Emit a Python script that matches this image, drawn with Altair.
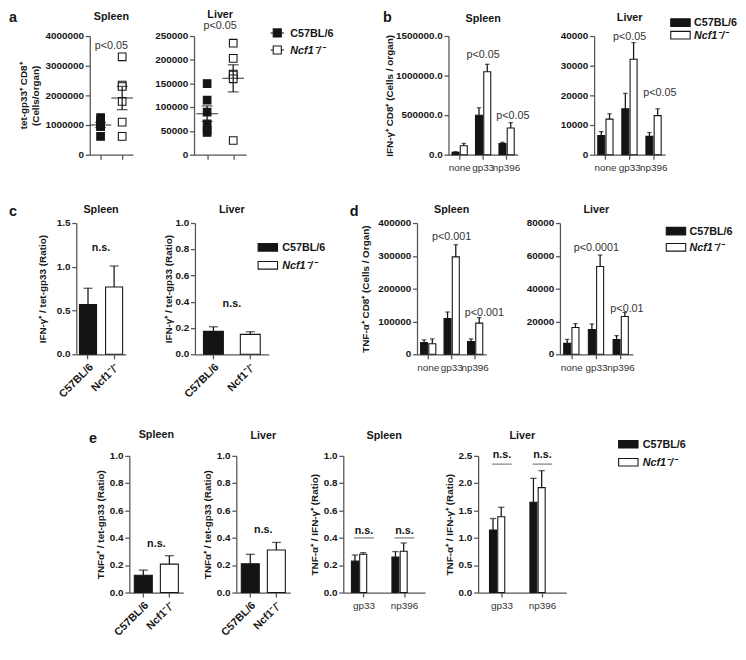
import altair as alt
import pandas as pd

FONT = "Liberation Sans"
INK = "#161616"
AXC = "#555555"
PCOL = "#333333"

STRAINS = ["C57BL/6", "Ncf1⁻/⁻"]
PEPTIDES = ["none", "gp33", "np396"]
PEPTIDES_E = ["gp33", "np396"]

# a: tet-gp33+ CD8+ cells per organ, individual mice
a_spleen_c57 = [1250000, 1150000, 1050000, 1000000, 950000, 620000]
a_spleen_ncf1 = [3300000, 2350000, 2300000, 1800000, 1100000, 620000]
a_liver_c57 = [150000, 115000, 90000, 65000, 52000, 47000]
a_liver_ncf1 = [235000, 203000, 170000, 168000, 160000, 30000]

# b: IFN-g+ CD8+ cells per organ (mean, SEM)
b_spleen_c57 = [30000, 500000, 143000]
b_spleen_c57_err = [8000, 94000, 15000]
b_spleen_ncf1 = [113000, 1049000, 338000]
b_spleen_ncf1_err = [30000, 94000, 68000]
b_liver_c57 = [6500, 15500, 6200]
b_liver_c57_err = [1300, 5200, 1300]
b_liver_ncf1 = [12000, 32200, 13200]
b_liver_ncf1_err = [1800, 5600, 2300]

# c: IFN-g+ / tet-gp33 ratio
c_spleen = [0.57, 0.77]
c_spleen_err = [0.185, 0.24]
c_liver = [0.175, 0.152]
c_liver_err = [0.035, 0.02]

# d: TNF-a+ CD8+ cells per organ
d_spleen_c57 = [36000, 109000, 39000]
d_spleen_c57_err = [8000, 20000, 8000]
d_spleen_ncf1 = [32000, 297000, 95000]
d_spleen_ncf1_err = [15000, 37000, 17000]
d_liver_c57 = [6700, 15100, 9000]
d_liver_c57_err = [2400, 3400, 2400]
d_liver_ncf1 = [16400, 53500, 23100]
d_liver_ncf1_err = [2300, 7000, 2400]

# e: ratios
e1_vals = [0.127, 0.208]
e1_err = [0.037, 0.062]
e2_vals = [0.211, 0.312]
e2_err = [0.069, 0.055]
e3_c57 = [0.23, 0.26]
e3_c57_err = [0.045, 0.04]
e3_ncf1 = [0.28, 0.303]
e3_ncf1_err = [0.012, 0.06]
e4_c57 = [1.145, 1.654]
e4_c57_err = [0.21, 0.436]
e4_ncf1 = [1.388, 1.92]
e4_ncf1_err = [0.172, 0.31]

# tick values
TICKS_A_SPLEEN = [0, 1000000, 2000000, 3000000, 4000000]
TICKS_A_LIVER = [0, 50000, 100000, 150000, 200000, 250000]
TICKS_B_SPLEEN = [0, 500000, 1000000, 1500000]
TICKS_B_LIVER = [0, 10000, 20000, 30000, 40000]
TICKS_C_SPLEEN = [0.0, 0.5, 1.0, 1.5]
TICKS_UNIT = [0.0, 0.2, 0.4, 0.6, 0.8, 1.0]
TICKS_D_SPLEEN = [0, 100000, 200000, 300000, 400000]
TICKS_D_LIVER = [0, 20000, 40000, 60000, 80000]
TICKS_E4 = [0.0, 0.5, 1.0, 1.5, 2.0, 2.5]

fill_scale = alt.Scale(domain=STRAINS, range=["#141414", "#ffffff"])

RECT = "M-1.8,-0.7H1.8V0.7H-1.8Z"
LINESQ = "M-1,0H-0.6M0.6,0H1M-0.6,-0.6H0.6V0.6H-0.6Z"


def make_legend(x, y, shape, size, row_pad, label_off):
    return alt.Legend(
        title=None, orient="none", legendX=x, legendY=y,
        symbolType=shape, symbolSize=size, symbolStrokeColor=INK,
        symbolStrokeWidth=1.2, labelFont=FONT, labelFontSize=12,
        labelFontWeight="bold", labelColor=INK,
        labelFontStyle=alt.ExprRef(expr="datum.label === 'C57BL/6' ? 'normal' : 'italic'"),
        labelOffset=label_off, rowPadding=row_pad, padding=0)


def yax(title, values, fmt, pad=4):
    return alt.Axis(title=title, values=values, format=fmt, titlePadding=pad)


def ttl(text, offset):
    return alt.TitleParams(text=text, offset=offset, frame="group", anchor="middle",
                           font=FONT, fontSize=12, fontWeight="bold", color=INK)


def letter_layer(ch, dx, dy):
    return alt.Chart(pd.DataFrame({"letter": [ch]})).mark_text(
        font=FONT, fontSize=16, fontWeight="bold", color=INK, align="left", baseline="middle"
    ).encode(text="letter:N", x=alt.value(dx), y=alt.value(dy))


def yscale(ticks):
    return alt.Scale(domain=[ticks[0], ticks[-1]], nice=False, zero=True)


def scatter_panel(c57, ncf, ticks, width, height, title_text, title_off, ytitle,
                  note, note_y, legend=None, letter=None):
    df = pd.DataFrame({"strain": [STRAINS[0]] * len(c57) + [STRAINS[1]] * len(ncf),
                       "value": c57 + ncf})
    x = alt.X("strain:N", sort=STRAINS, scale=alt.Scale(type="point", padding=0.5),
              axis=alt.Axis(title=None, labels=False))
    ysc = yscale(ticks)
    ya = yax(ytitle, ticks, "d", pad=5)
    base = alt.Chart(df)
    pts = base.mark_square(size=72, stroke=INK, strokeWidth=1.2, opacity=1).encode(
        x=x, y=alt.Y("value:Q", scale=ysc, axis=ya),
        fill=alt.Fill("strain:N", scale=fill_scale, legend=legend))
    stats = base.transform_aggregate(
        mean="mean(value)", sem="stderr(value)", groupby=["strain"]
    ).transform_calculate(lo="datum.mean - datum.sem", hi="datum.mean + datum.sem")
    layers = [
        pts,
        stats.mark_rule(color=INK, strokeWidth=1.4).encode(
            x=x, y=alt.Y("lo:Q", scale=ysc, axis=ya), y2="hi:Q"),
        stats.mark_tick(color=INK, thickness=1.4, size=12).encode(
            x=x, y=alt.Y("lo:Q", scale=ysc, axis=ya)),
        stats.mark_tick(color=INK, thickness=1.4, size=12).encode(
            x=x, y=alt.Y("hi:Q", scale=ysc, axis=ya)),
        stats.mark_tick(color=INK, thickness=1.4, size=24).encode(
            x=x, y=alt.Y("mean:Q", scale=ysc, axis=ya)),
        alt.Chart(pd.DataFrame({"label": [note], "y": [note_y]})).mark_text(
            font=FONT, fontSize=12, color=PCOL).encode(
            y=alt.Y("y:Q", scale=ysc, axis=ya), text="label:N"),
    ]
    if letter:
        layers.append(letter_layer(*letter))
    return alt.layer(*layers).properties(width=width, height=height,
                                         title=ttl(title_text, title_off))


def grouped_panel(groups, c57, c57e, ncf, ncfe, ticks, fmt, width, height, title_text,
                  title_off, ytitle, pin, pout, cap, gap, notes, note_bold=False,
                  lines=None, legend=None, letter=None, title_pad=4):
    n = len(groups)
    df = pd.DataFrame({"group": groups * 2,
                       "strain": [STRAINS[0]] * n + [STRAINS[1]] * n,
                       "value": c57 + ncf, "err": c57e + ncfe})
    xscale = alt.Scale(paddingInner=pin, paddingOuter=pout)
    xaxis = alt.Axis(title=None, labelAngle=0, labelFontWeight="normal",
                     labelColor=PCOL, labelFontSize=11, labelPadding=4)
    x = alt.X("group:N", sort=groups, scale=xscale, axis=xaxis)
    xo = alt.XOffset("strain:N", sort=STRAINS, scale=alt.Scale(paddingInner=gap))
    ysc = yscale(ticks)
    ya = yax(ytitle, ticks, fmt, pad=title_pad)
    base = alt.Chart(df).transform_calculate(top="datum.value + datum.err")
    layers = [
        base.mark_bar(stroke=INK, strokeWidth=1.2).encode(
            x=x, xOffset=xo, y=alt.Y("value:Q", scale=ysc, axis=ya),
            fill=alt.Fill("strain:N", scale=fill_scale, legend=legend)),
        base.mark_rule(color=INK, strokeWidth=1.4).encode(
            x=x, xOffset=xo, y=alt.Y("value:Q", scale=ysc, axis=ya), y2="top:Q"),
        base.mark_tick(color=INK, thickness=1.4, size=cap).encode(
            x=x, xOffset=xo, y=alt.Y("top:Q", scale=ysc, axis=ya)),
    ]
    ndf = pd.DataFrame(notes, columns=["group", "y", "label", "pos"])
    style = dict(font=FONT, fontSize=12, color=INK if note_bold else PCOL,
                 fontWeight="bold" if note_bold else "normal")
    mid = ndf[ndf["pos"] == "mid"]
    left = ndf[ndf["pos"] == "left"]
    if len(mid):
        layers.append(alt.Chart(mid).mark_text(**style).encode(
            x=x, y=alt.Y("y:Q", scale=ysc, axis=ya), text="label:N"))
    if len(left):
        layers.append(alt.Chart(left).mark_text(align="left", dx=-3, **style).encode(
            x=alt.X("group:N", sort=groups, scale=xscale, axis=xaxis, bandPosition=0),
            y=alt.Y("y:Q", scale=ysc, axis=ya), text="label:N"))
    if lines:
        ldf = pd.DataFrame(lines, columns=["group", "y"])
        layers.append(alt.Chart(ldf).mark_tick(color="#666666", thickness=1.6, size=22).encode(
            x=x, y=alt.Y("y:Q", scale=ysc, axis=ya)))
    if letter:
        layers.append(letter_layer(*letter))
    return alt.layer(*layers).properties(width=width, height=height,
                                         title=ttl(title_text, title_off))


def single_panel(vals, errs, ticks, width, height, title_text, title_off, ytitle,
                 pin, pout, cap, note_y, legend=None, letter=None, title_pad=4):
    df = pd.DataFrame({"strain": STRAINS, "value": vals, "err": errs})
    x = alt.X("strain:N", sort=STRAINS, scale=alt.Scale(paddingInner=pin, paddingOuter=pout),
              axis=alt.Axis(title=None, labelAngle=-45, labelFontSize=12, labelPadding=3))
    ysc = yscale(ticks)
    ya = yax(ytitle, ticks, ".1f", pad=title_pad)
    base = alt.Chart(df).transform_calculate(top="datum.value + datum.err")
    layers = [
        base.mark_bar(stroke=INK, strokeWidth=1.2).encode(
            x=x, y=alt.Y("value:Q", scale=ysc, axis=ya),
            fill=alt.Fill("strain:N", scale=fill_scale, legend=legend)),
        base.mark_rule(color=INK, strokeWidth=1.4).encode(
            x=x, y=alt.Y("value:Q", scale=ysc, axis=ya), y2="top:Q"),
        base.mark_tick(color=INK, thickness=1.4, size=cap).encode(
            x=x, y=alt.Y("top:Q", scale=ysc, axis=ya)),
        alt.Chart(pd.DataFrame({"label": ["n.s."], "y": [note_y]})).mark_text(
            font=FONT, fontSize=12, fontWeight="bold", color=INK).encode(
            y=alt.Y("y:Q", scale=ysc, axis=ya), text="label:N"),
    ]
    if letter:
        layers.append(letter_layer(*letter))
    return alt.layer(*layers).properties(width=width, height=height,
                                         title=ttl(title_text, title_off))


H1, H2, H3 = 132, 146, 152

# ---- row 1
aS = scatter_panel(a_spleen_c57, a_spleen_ncf1, TICKS_A_SPLEEN, 48, H1, "Spleen", -14,
                   ["tet-gp33⁺ CD8⁺", "(Cells/organ)"], "p<0.05", 3700000,
                   letter=("a", -90, -21))
aL = scatter_panel(a_liver_c57, a_liver_ncf1, TICKS_A_LIVER, 58, H1, "Liver", -1, None,
                   "p<0.05", 272000,
                   legend=make_legend(84, -12, LINESQ, 225, 3, 6))
bS = grouped_panel(PEPTIDES, b_spleen_c57, b_spleen_c57_err, b_spleen_ncf1, b_spleen_ncf1_err,
                   TICKS_B_SPLEEN, ".1f", 77, H1, "Spleen", -16,
                   "IFN-γ⁺ CD8⁺ (Cells / organ)", 0.35, 0.15, 5, 0.15,
                   [("gp33", 1274000, "p<0.05", "mid"), ("np396", 495000, "p<0.05", "left")],
                   letter=("b", -73, -21), title_pad=1)
bL = grouped_panel(PEPTIDES, b_liver_c57, b_liver_c57_err, b_liver_ncf1, b_liver_ncf1_err,
                   TICKS_B_LIVER, "d", 79, H1, "Liver", -8, None, 0.35, 0.15, 5, 0.15,
                   [("gp33", 40000, "p<0.05", "mid"), ("np396", 21000, "p<0.05", "left")],
                   legend=make_legend(89, -22, RECT, 144, 0, 8))

# ---- row 2
cS = single_panel(c_spleen, c_spleen_err, TICKS_C_SPLEEN, 55, H2, "Spleen", -13,
                  "IFN-γ⁺ / tet-gp33 (Ratio)", 0.345, 0.12, 10, 1.22,
                  letter=("c", -75, -13), title_pad=10)
cL = single_panel(c_liver, c_liver_err, TICKS_UNIT, 82, H2, "Liver", 2,
                  "IFN-γ⁺ / tet-gp33 (Ratio)", 0.46, 0.23, 10, 0.39,
                  legend=make_legend(74, 20, RECT, 144, 6, 9), title_pad=2)
dS = grouped_panel(PEPTIDES, d_spleen_c57, d_spleen_c57_err, d_spleen_ncf1, d_spleen_ncf1_err,
                   TICKS_D_SPLEEN, "d", 77, H2, "Spleen", -13,
                   "TNF-α⁺ CD8⁺ (Cells / Organ)", 0.35, 0.15, 5, 0.15,
                   [("gp33", 358000, "p<0.001", "mid"), ("np396", 129000, "p<0.001", "left")],
                   letter=("d", -75, -13), title_pad=8)
dL = grouped_panel(PEPTIDES, d_liver_c57, d_liver_c57_err, d_liver_ncf1, d_liver_ncf1_err,
                   TICKS_D_LIVER, "d", 81, H2, "Liver", 2, None, 0.35, 0.15, 5, 0.15,
                   [("gp33", 65000, "p<0.0001", "mid"), ("np396", 28000, "p<0.01", "left")],
                   legend=make_legend(122, 2, RECT, 144, 4, 8))

# ---- row 3
e1 = single_panel(e1_vals, e1_err, TICKS_UNIT, 60, H3, "Spleen", -10,
                  "TNFα⁺ / tet-gp33 (Ratio)", 0.31, 0.19, 10, 0.36,
                  letter=("e", -45, -19))
e2 = single_panel(e2_vals, e2_err, TICKS_UNIT, 60, H3, "Liver", 10,
                  "TNFα⁺ / tet-gp33 (Ratio)", 0.31, 0.19, 10, 0.46)
e3 = grouped_panel(PEPTIDES_E, e3_c57, e3_c57_err, e3_ncf1, e3_ncf1_err, TICKS_UNIT, ".1f",
                   91, H3, "Spleen", 10, "TNF-α⁺ / IFN-γ⁺ (Ratio)", 0.38, 0.2, 7, 0.08,
                   [("gp33", 0.455, "n.s.", "mid"), ("np396", 0.455, "n.s.", "mid")],
                   note_bold=True, lines=[("gp33", 0.40), ("np396", 0.40)])
e4 = grouped_panel(PEPTIDES_E, e4_c57, e4_c57_err, e4_ncf1, e4_ncf1_err, TICKS_E4, ".1f",
                   98, H3, "Liver", -4, "TNF-α⁺ / IFN-γ⁺ (Ratio)", 0.38, 0.28, 7, 0.08,
                   [("gp33", 2.52, "n.s.", "mid"), ("np396", 2.52, "n.s.", "mid")],
                   note_bold=True, lines=[("gp33", 2.35), ("np396", 2.35)],
                   legend=make_legend(160, -20, RECT, 144, 6, 9))


def spacer():
    return alt.Chart(pd.DataFrame({"t": [""]})).mark_text().encode(text="t:N").properties(
        width=1, height=1)


def hc(*charts, spacing):
    return alt.hconcat(*charts, spacing=spacing).resolve_scale(fill="independent").resolve_legend(
        fill="independent")


def vc(*charts, spacing):
    return alt.vconcat(*charts, spacing=spacing).resolve_scale(fill="independent").resolve_legend(
        fill="independent")


row1 = hc(spacer(), hc(hc(aS, aL, spacing=24), hc(bS, bL, spacing=33), spacing=54), spacing=0)
row2 = hc(spacer(), hc(hc(cS, cL, spacing=41), hc(dS, dL, spacing=24), spacing=26), spacing=0)
row3 = hc(spacer(), hc(e1, e2, e3, e4, spacing=21), spacing=89)

chart = vc(vc(row1, row2, spacing=35), row3, spacing=33).properties(
    padding={"left": 0, "top": -36, "right": 0, "bottom": 0}
).configure_view(stroke=None).configure_axis(
    labelFont=FONT, labelFontSize=11, labelFontWeight="bold", labelColor=INK,
    titleFont=FONT, titleFontSize=11, titleFontWeight="bold", titleColor=INK,
    domainColor=AXC, tickColor=AXC, domainWidth=1.4, tickWidth=1.4, tickSize=5,
    labelPadding=2, grid=False
)

chart.save("out.html", embed_options={"renderer": "svg", "actions": False})
